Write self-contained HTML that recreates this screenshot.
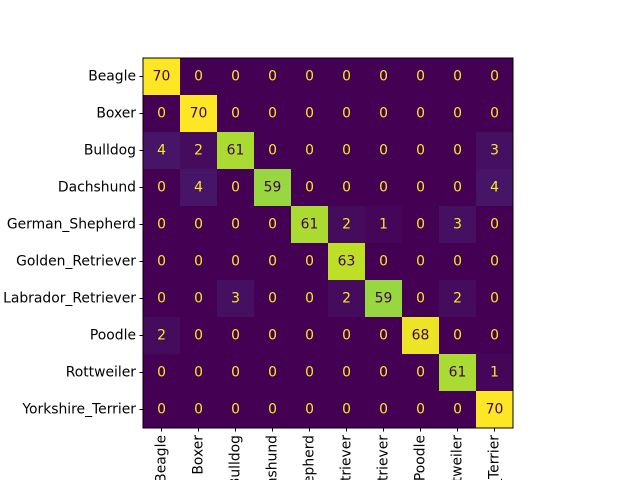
<!DOCTYPE html>
<html><head><meta charset="utf-8"><style>html,body{margin:0;background:#fff;overflow:hidden;width:640px;height:480px}svg{display:block;overflow:hidden}text{font-family:"DejaVu Sans","Liberation Sans",sans-serif;font-size:13.9px}</style></head>
<body>
<svg id="chart" width="640" height="480"></svg>
<script>
const categories = ["Beagle","Boxer","Bulldog","Dachshund","German_Shepherd","Golden_Retriever","Labrador_Retriever","Poodle","Rottweiler","Yorkshire_Terrier"];
const row0 = [70,0,0,0,0,0,0,0,0,0];
const row1 = [0,70,0,0,0,0,0,0,0,0];
const row2 = [4,2,61,0,0,0,0,0,0,3];
const row3 = [0,4,0,59,0,0,0,0,0,4];
const row4 = [0,0,0,0,61,2,1,0,3,0];
const row5 = [0,0,0,0,0,63,0,0,0,0];
const row6 = [0,0,3,0,0,2,59,0,2,0];
const row7 = [2,0,0,0,0,0,0,68,0,0];
const row8 = [0,0,0,0,0,0,0,0,61,1];
const row9 = [0,0,0,0,0,0,0,0,0,70];
const matrix = [row0,row1,row2,row3,row4,row5,row6,row7,row8,row9];

const NS="http://www.w3.org/2000/svg";
const svg=document.getElementById('chart');
const L=143,T=58,W=370,H=370,n=categories.length,cw=W/n,ch=H/n;
const vmax=Math.max(...matrix.flat()),vmin=Math.min(...matrix.flat());
const xPos=i=>L+cw*(i+0.5), yPos=i=>T+ch*(i+0.5);
const vir=["#440154","#482475","#414487","#355f8d","#2a788e","#21918c","#22a884","#44bf70","#7ad151","#bddf26","#fde725"];
function color(v){let t=(v-vmin)/(vmax-vmin)*10;let i=Math.min(9,Math.floor(t)),f=t-i;
 const a=vir[i],b=vir[i+1];let c=[1,3,5].map(k=>Math.round(parseInt(a.substr(k,2),16)*(1-f)+parseInt(b.substr(k,2),16)*f));
 return `rgb(${c.join(',')})`;}
function mk(tag,attrs,parent){const e=document.createElementNS(NS,tag);for(const k in attrs)e.setAttribute(k,attrs[k]);(parent||svg).appendChild(e);return e;}
const thr=(vmax+vmin)/2;
matrix.forEach((row,r)=>row.forEach((v,c)=>{
 const rect=mk('rect',{x:L+c*cw,y:T+r*ch,width:cw+0.5,height:ch+0.5,fill:color(v)});
 
 
 const t=mk('text',{x:xPos(c),y:yPos(r),'text-anchor':'middle','dominant-baseline':'central',fill:v>thr?'#440154':'#fde725'});
 t.textContent=v;
 
 
}));
const frame=mk('rect',{x:L,y:T,width:W,height:H,fill:'none',stroke:'#000','stroke-width':1});


categories.forEach((name,i)=>{
 mk('line',{x1:L-3.5,x2:L,y1:yPos(i),y2:yPos(i),stroke:'#000'});
 const yl=mk('text',{x:L-7,y:yPos(i),'text-anchor':'end','dominant-baseline':'central',fill:'#000'});
 yl.textContent=name;
 
 
 mk('line',{x1:xPos(i),x2:xPos(i),y1:T+H,y2:T+H+3.5,stroke:'#000'});
 const xl=mk('text',{x:xPos(i),y:T+H+7,'text-anchor':'end','dominant-baseline':'central',fill:'#000',transform:`rotate(-90 ${xPos(i)} ${T+H+7})`});
 xl.textContent=name;
 
 
});
</script>
</body></html>
